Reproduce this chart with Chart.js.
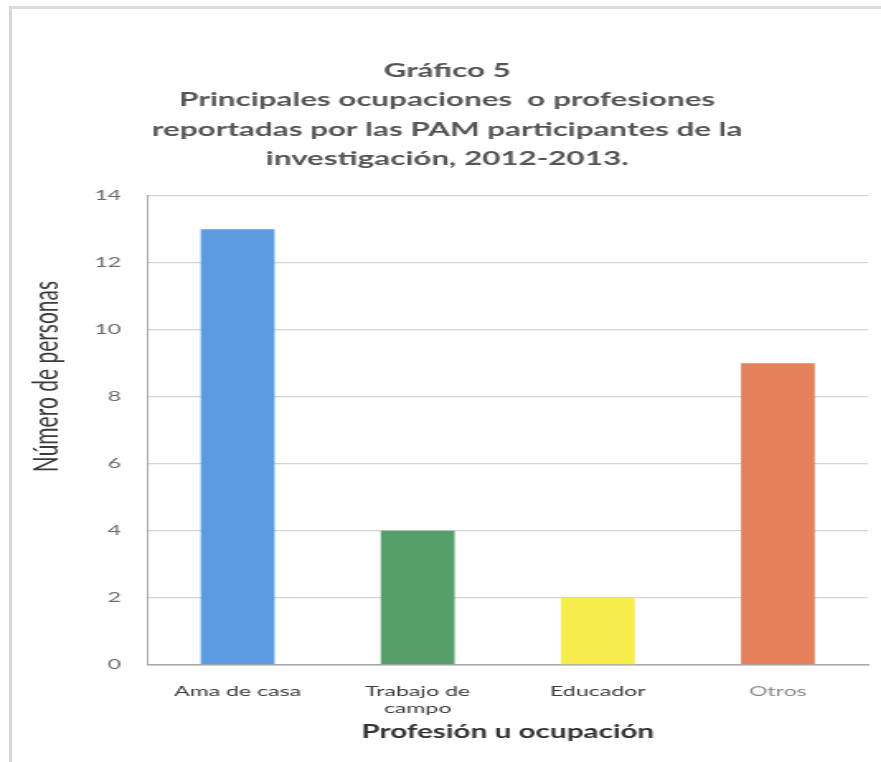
<!DOCTYPE html>
<html lang="es">
<head>
  <meta charset="UTF-8">
  <title>Gráfico 5</title>
  <script src="https://cdn.jsdelivr.net/npm/chart.js"></script>
  <style>
    body { margin: 0; background: #fff; overflow: hidden; }
    #wrap { position: relative; width: 881px; height: 762px; overflow: hidden; }
    /* marco del recuadro (solo arriba e izquierda) */
    #frame {
      position: absolute; left: 9px; top: 6px; width: 900px; height: 800px;
      border-top: 3px solid #dcdcdc; border-left: 3px solid #d6d6d6;
    }
    /* el lienzo se dibuja estrecho y se estira a lo ancho */
    #grafico {
      position: absolute; left: 0; top: 0;
      transform: scaleX(1.65); transform-origin: 0 0;
    }
  </style>
</head>
<body>
  <div id="wrap">
    <div id="frame"></div>
    <canvas id="grafico" width="534" height="762"></canvas>
  </div>

  <script>
    // Ocupaciones y número de personas
    const ocupaciones = ['Ama de casa', ['Trabajo de', 'campo'], 'Educador', 'Otros'];
    const personas = [13, 4, 2, 9];
    const colores = ['#5b9be0', '#55a06a', '#f5ee4a', '#e2815a'];
    const colorEtiquetas = ['#3a3a3a', '#3a3a3a', '#3a3a3a', '#8a8a8a'];

    const titulo = [
      'Gráfico 5',
      'Principales ocupaciones  o profesiones',
      'reportadas por las PAM participantes de la',
      'investigación, 2012-2013.'
    ];

    // espacios delante para subir el título del eje hacia arriba
    const tituloEjeY = '\u00a0'.repeat(20) + 'Número de personas';

    const ctx = document.getElementById('grafico').getContext('2d');
    new Chart(ctx, {
      type: 'bar',
      data: {
        labels: ocupaciones,
        datasets: [{
          data: personas,
          backgroundColor: colores,
          barPercentage: 0.41,
          categoryPercentage: 1
        }]
      },
      options: {
        responsive: false,
        animation: false,
        layout: { padding: { left: 16, right: 8, bottom: 19, top: 0 } },
        plugins: {
          legend: { display: false },
          tooltip: { enabled: false },
          title: {
            display: true,
            text: titulo,
            color: '#555',
            font: { family: 'Lato', size: 19, weight: 'bold', lineHeight: 1.55 },
            padding: { top: 56, bottom: 22 }
          }
        },
        scales: {
          x: {
            grid: { display: false },
            border: { color: '#a8a8a8', width: 1.5 },
            ticks: {
              color: colorEtiquetas,
              font: { family: 'Lato', size: 14, lineHeight: 1.2 },
              padding: 10,
              maxRotation: 0,
              autoSkip: false
            },
            title: {
              display: true,
              text: 'Profesión u ocupación',
              color: '#333',
              font: { family: 'Lato', size: 18, weight: 'bold' },
              padding: { top: -5, bottom: 0 }
            }
          },
          y: {
            min: 0,
            max: 14,
            ticks: {
              stepSize: 2,
              color: '#6a6a6a',
              font: { family: 'Lato', size: 14 },
              padding: 16
            },
            grid: { color: '#d4d4d4', lineWidth: 1.3, drawTicks: false },
            border: { color: '#a8a8a8', width: 1 },
            title: {
              display: true,
              text: tituloEjeY,
              color: '#3a3a3a',
              font: { family: 'Lato', size: 21 },
              padding: { top: 0, bottom: 0 }
            }
          }
        }
      }
    });
  </script>
</body>
</html>
